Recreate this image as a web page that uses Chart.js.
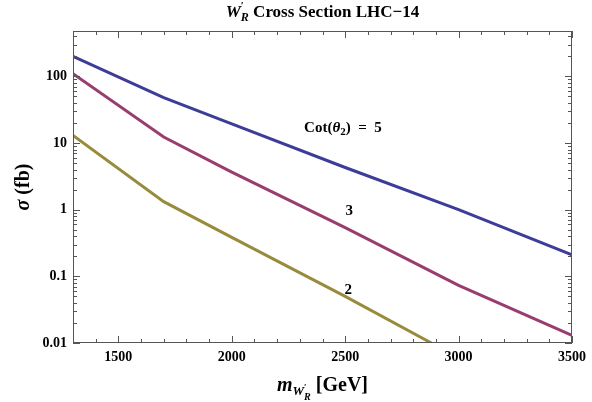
<!DOCTYPE html>
<html>
<head>
<meta charset="utf-8">
<script src="https://cdn.jsdelivr.net/npm/chart.js@4.4.1/dist/chart.umd.min.js"></script>
<style>
  html, body { margin: 0; padding: 0; background: #fff; }
  #wrap { width: 592px; height: 402px; position: relative; }
</style>
</head>
<body>
<div id="wrap"><canvas id="xsecChart"></canvas></div>
<script>
// W'_R cross section at LHC-14 vs mass
const massGeV = [1300, 1700, 2000, 2500, 3000, 3500];
const sigmaCot5 = [200, 48, 19.4, 4.3, 1.0, 0.21];
const sigmaCot3 = [110, 12.3, 3.66, 0.54, 0.073, 0.013];
const massCot2 = [1300, 1700, 2000, 2500, 2880];
const sigmaCot2 = [13, 1.32, 0.385, 0.05, 0.01];

const xTicks = [1500, 2000, 2500, 3000, 3500];
const yTicks = [0.01, 0.1, 1, 10, 100];

// where the Cot(theta_2) labels sit, in data units
const curveLabels = [
  { text: "5", mass: 2490, sigma: 17.7, full: true },
  { text: "3", mass: 2518, sigma: 0.98 },
  { text: "2", mass: 2513, sigma: 0.064 }
];

const serif = "Liberation Serif";
const blue = "#3d3d99";
const magenta = "#993d71";
const olive = "#998b3d";
const frameColor = "#555";

function pts(xs, ys) {
  return xs.map((x, i) => ({ x: x, y: ys[i] }));
}

function drawRich(ctx, parts, cx, cy) {
  let total = 0;
  parts.forEach(p => {
    ctx.font = p.font;
    p.w = ctx.measureText(p.t).width;
    if (!p.noAdv) total += p.w;
  });
  let x = cx - total / 2;
  ctx.textAlign = "left";
  ctx.textBaseline = "alphabetic";
  parts.forEach(p => {
    ctx.font = p.font;
    ctx.fillText(p.t, x, cy + (p.dy || 0));
    if (!p.noAdv) x += p.w;
  });
}

const frameTicks = {
  id: "frameTicks",
  afterDraw(chart) {
    const { ctx, chartArea: a, scales: { x, y } } = chart;
    ctx.save();
    ctx.strokeStyle = frameColor;
    ctx.lineWidth = 1;
    ctx.strokeRect(a.left + 0.5, a.top + 0.5, a.right - a.left - 1, a.bottom - a.top - 1);

    ctx.beginPath();
    for (let v = 1300; v <= 3500; v += 100) {
      const px = Math.round(x.getPixelForValue(v)) + 0.5;
      const len = v % 500 === 0 ? 7 : 4;
      ctx.moveTo(px, a.bottom); ctx.lineTo(px, a.bottom - len);
      ctx.moveTo(px, a.top); ctx.lineTo(px, a.top + len);
    }
    for (let d = 0.01; d <= 100; d *= 10) {
      for (let m = 1; m <= 9; m++) {
        const v = d * m;
        if (v > y.max) break;
        const py = Math.round(y.getPixelForValue(v)) + 0.5;
        const len = m === 1 ? 7 : 4;
        ctx.moveTo(a.left, py); ctx.lineTo(a.left + len, py);
        ctx.moveTo(a.right, py); ctx.lineTo(a.right - len, py);
      }
    }
    ctx.stroke();

    ctx.fillStyle = "#000";
    // title
    drawRich(ctx, [
      { t: "W", font: `italic bold 17px ${serif}` },
      { t: "\u2032", font: `bold 11px ${serif}`, dy: -8, noAdv: true },
      { t: "R", font: `italic bold 12px ${serif}`, dy: 4 },
      { t: " Cross Section LHC\u221214", font: `bold 17px ${serif}` }
    ], (a.left + a.right) / 2, 17);

    // x axis title
    drawRich(ctx, [
      { t: "m", font: `italic bold 20px ${serif}` },
      { t: "W", font: `italic bold 13px ${serif}`, dy: 4 },
      { t: "\u2032", font: `bold 9px ${serif}`, dy: -1, noAdv: true },
      { t: "R", font: `italic bold 10px ${serif}`, dy: 9 },
      { t: " [GeV]", font: `bold 20px ${serif}` }
    ], (a.left + a.right) / 2, 391);

    // y axis title
    ctx.save();
    ctx.translate(29, (a.top + a.bottom) / 2);
    ctx.rotate(-Math.PI / 2);
    drawRich(ctx, [
      { t: "\u03c3", font: `italic bold 20px ${serif}` },
      { t: " (fb)", font: `bold 20px ${serif}` }
    ], 0, 0);
    ctx.restore();

    // curve labels
    curveLabels.forEach(l => {
      const px = x.getPixelForValue(l.mass);
      const py = y.getPixelForValue(l.sigma) + 5;
      if (l.full) {
        drawRich(ctx, [
          { t: "Cot(", font: `bold 15px ${serif}` },
          { t: "\u03b8", font: `italic bold 15px ${serif}` },
          { t: "2", font: `bold 11px ${serif}`, dy: 3 },
          { t: ")  =  " + l.text, font: `bold 15px ${serif}` }
        ], px, py);
      } else {
        drawRich(ctx, [{ t: l.text, font: `bold 15px ${serif}` }], px, py);
      }
    });
    ctx.restore();
  }
};

const ctx = document.getElementById("xsecChart").getContext("2d");
new Chart(ctx, {
  type: "line",
  data: {
    datasets: [
      { label: "Cot = 5", data: pts(massGeV, sigmaCot5), borderColor: blue },
      { label: "Cot = 3", data: pts(massGeV, sigmaCot3), borderColor: magenta },
      { label: "Cot = 2", data: pts(massCot2, sigmaCot2), borderColor: olive }
    ].map(d => Object.assign(d, { borderWidth: 3, pointRadius: 0, tension: 0, fill: false }))
  },
  options: {
    responsive: true,
    maintainAspectRatio: false,
    animation: false,
    devicePixelRatio: 1,
    layout: { padding: { top: 31, right: 15, left: 0, bottom: 0 } },
    plugins: { legend: { display: false }, tooltip: { enabled: false } },
    scales: {
      x: {
        type: "linear",
        min: 1300,
        max: 3500,
        grid: { display: false, drawTicks: false },
        border: { display: false },
        afterBuildTicks: s => { s.ticks = xTicks.map(v => ({ value: v })); },
        afterFit: s => { s.height = 59; },
        ticks: {
          color: "#000",
          padding: 6,
          maxRotation: 0,
          autoSkip: false,
          font: { family: serif, size: 14, weight: "bold" },
          callback: v => String(v)
        }
      },
      y: {
        type: "logarithmic",
        min: 0.01,
        max: 480,
        grid: { display: false, drawTicks: false },
        border: { display: false },
        afterBuildTicks: s => { s.ticks = yTicks.map(v => ({ value: v })); },
        afterFit: s => { s.width = 73; },
        ticks: {
          color: "#000",
          padding: 6,
          autoSkip: false,
          font: { family: serif, size: 14, weight: "bold" },
          callback: v => String(v)
        }
      }
    }
  },
  plugins: [frameTicks]
});
</script>
</body>
</html>
